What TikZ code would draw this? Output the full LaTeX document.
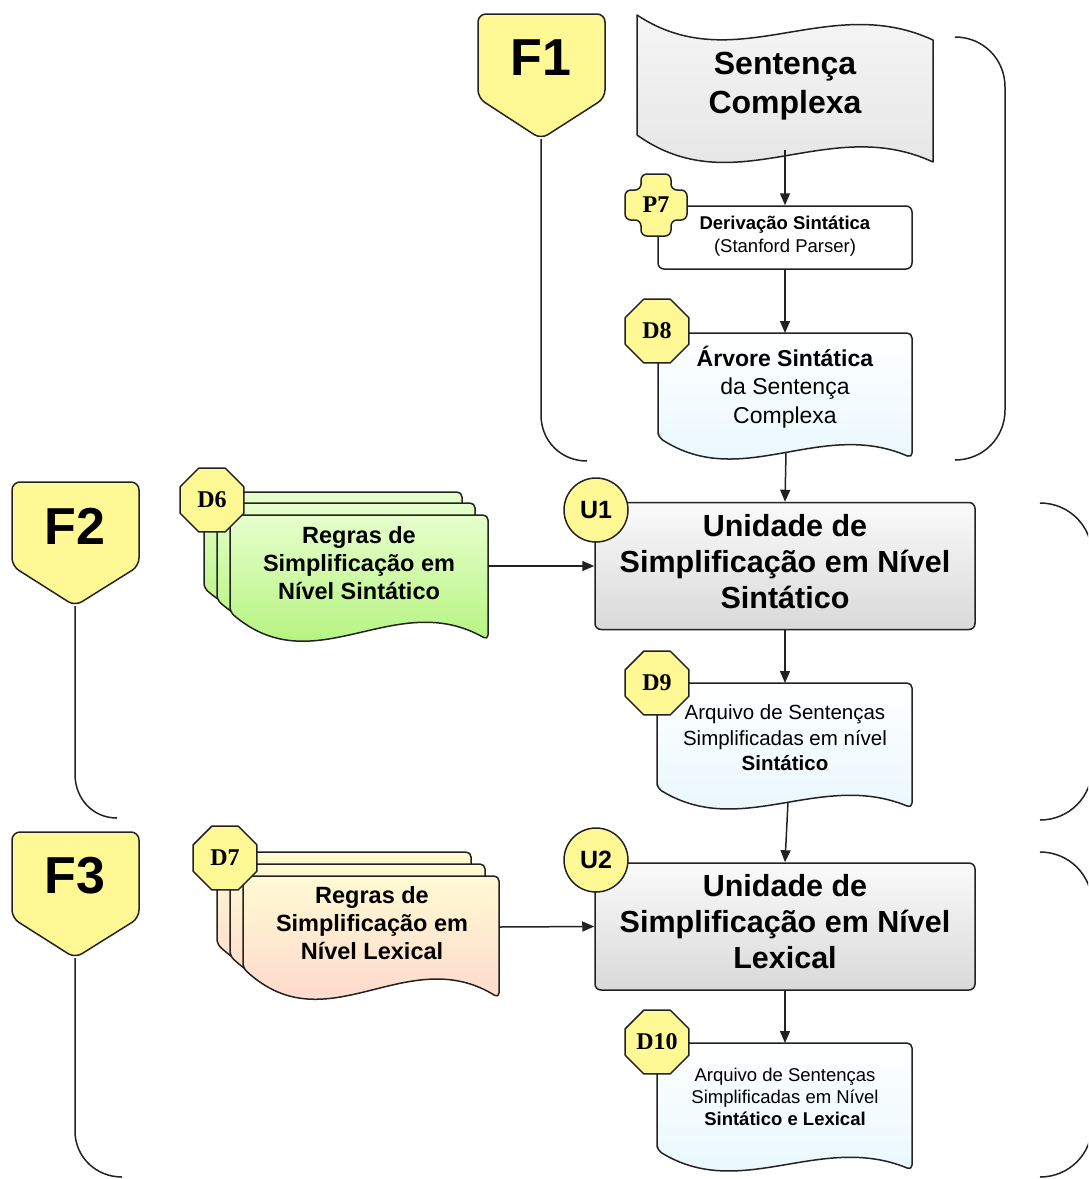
\documentclass[tikz,border=0pt]{standalone}
\usepackage{fontspec}
\setmainfont{Liberation Sans}
\newfontfamily\serifb{Liberation Serif}
\usetikzlibrary{arrows.meta,shapes.geometric}
\definecolor{yel}{HTML}{FFF995}
\definecolor{grayT}{HTML}{FAFAFA}
\definecolor{grayB}{HTML}{D9D9D9}
\definecolor{scT}{HTML}{F8F8F8}
\definecolor{scB}{HTML}{E2E2E2}
\definecolor{blueB}{HTML}{E4F6FC}
\definecolor{greenT}{HTML}{E6FFCC}
\definecolor{greenB}{HTML}{A6F068}
\definecolor{peachT}{HTML}{FFFBD2}
\definecolor{peachB}{HTML}{FFCCCC}
\definecolor{lnc}{HTML}{222222}
\begin{document}
\begin{tikzpicture}[x=1pt,y=-1pt,line join=round,
  ln/.style={draw=lnc,line width=1.5pt},
  arr/.style={ln,-{Triangle[length=12pt,width=10pt]}},
  docshape/.style n args={5}{insert path={(#1,#4) -- (#1,#2) -- (#3,#2) -- (#3,{#4+#5}) .. controls ({#3-0.36*(#3-#1)},{#4-0.9*#5}) and ({#1+0.33*(#3-#1)},{#4+2.6*#5}) .. (#1,#4) -- cycle}},
  bluedoc/.style={ln,rounded corners=5pt,top color=white,bottom color=blueB},
  greendoc/.style={ln,rounded corners=5pt,top color=greenT,bottom color=greenB},
  peachdoc/.style={ln,rounded corners=5pt,top color=peachT,bottom color=peachB},
  unitbox/.style={ln,rounded corners=6pt,top color=grayT,bottom color=grayB,minimum width=380pt,minimum height=127pt,inner sep=0pt},
  unittext/.style={align=center,font=\bfseries\fontsize{30.5}{36}\selectfont},
  octo/.style={ln,fill=yel,regular polygon,regular polygon sides=8,minimum size=69pt,inner sep=0pt,font=\serifb\bfseries\fontsize{24}{24}\selectfont},
  ubadge/.style={ln,fill=yel,circle,minimum size=64pt,inner sep=0pt,font=\bfseries\fontsize{25}{25}\selectfont},
  banner/.style={ln,fill=yel,rounded corners=8pt},
  bantext/.style={font=\bfseries\fontsize{52}{52}\selectfont},
]
\useasboundingbox (0,0) rectangle (1088,1179);
\clip (0,0) rectangle (1088,1179);

% ---------- F1 ----------
\path[banner] (478,14) -- (605,14) -- (605,98) -- (541,139) -- (478,98) -- cycle;
\node[bantext] (f1) at (541,58) {F1};
\coordinate (f1tip) at (541,139);
\coordinate (f1end) at (587,461);
\draw[ln] (f1tip) -- (541,415) .. controls (541,441) and (561,461) .. (f1end);
\coordinate (f1r1) at (955,37);
\coordinate (f1r2) at (955,460);
\draw[ln] (f1r1) .. controls (983,37) and (1005,59) .. (1005,87) -- (1005,410) .. controls (1005,438) and (983,460) .. (f1r2);

% Sentenca Complexa
\path[ln,top color=scT,bottom color=scB]
  (637,135) -- (637,15) .. controls (735,80) and (827,-9) .. (933,40)
  -- (933,162) .. controls (827,113) and (735,205) .. (637,135) -- cycle;
\node[font=\bfseries\fontsize{32}{39}\selectfont,align=center] (sc) at (785,86) {Sentença\\Complexa};
\coordinate (sc-b) at (785,150);

% P7
\node[ln,fill=white,rounded corners=6pt,minimum width=254pt,minimum height=63pt,inner sep=0pt] (p7) at (785,237.5) {};
\node[align=center,font=\fontsize{18.5}{23}\selectfont] (p7t) at (785,236) {\textbf{Derivação Sintática}\\(Stanford Parser)};
\path[ln,fill=yel,rounded corners=6pt,shift={(656,205)}]
  (-15,-31) -- (15,-31) -- (15,-15) -- (31,-15) -- (31,15) -- (15,15) -- (15,31)
  -- (-15,31) -- (-15,15) -- (-31,15) -- (-31,-15) -- (-15,-15) -- cycle;
\node[font=\serifb\bfseries\fontsize{24}{24}\selectfont] (p7b) at (656,205) {P7};
\draw[arr] (sc-b) -- (p7.north);

% D8
\path[bluedoc,docshape={658}{333}{912}{437}{21}];
\node[align=center,font=\fontsize{23}{28.5}\selectfont] (d8) at (785,387) {\textbf{Árvore Sintática}\\da Sentença\\Complexa};
\coordinate (d8-t) at (785,333);
\coordinate (d8-b) at (786,452);
\node[octo] (d8b) at (657,331) {D8};
\draw[arr] (p7.south) -- (d8-t);

% ---------- F2 ----------
\path[banner] (12,482) -- (139,482) -- (139,566) -- (75,606) -- (12,566) -- cycle;
\node[bantext] (f2) at (75,526) {F2};
\coordinate (f2tip) at (75,606);
\coordinate (f2end) at (117,818);
\draw[ln] (f2tip) -- (75,774) .. controls (75,799) and (93,818) .. (f2end);
\coordinate (f2r1) at (1040,503);
\coordinate (f2r2) at (1040,820);
\draw[ln] (f2r1) .. controls (1069,503) and (1092,526) .. (1092,555) -- (1092,768) .. controls (1092,797) and (1069,820) .. (f2r2);

% U1
\node[unitbox] (u1) at (785,566) {};
\node[unittext] (u1t) at (785,562) {Unidade de\\Simplificação em Nível\\Sintático};
\node[ubadge] (u1b) at (596,510) {U1};
\draw[arr] (d8-b) -- (u1.north);

% D6 stack
\path[greendoc,docshape={204}{492}{462}{588}{28}];
\path[greendoc,docshape={217}{503}{475}{600}{28}];
\path[greendoc,docshape={230}{515}{488}{612}{28}];
\node[align=center,font=\bfseries\fontsize{23.5}{28}\selectfont] (d6) at (359,563) {Regras de\\Simplificação em\\Nível Sintático};
\coordinate (d6-r) at (488,566);
\node[octo] (d6b) at (212,500) {D6};
\draw[arr] (d6-r) -- (u1.west);

% D9
\path[bluedoc,docshape={657}{683}{912}{788}{20}];
\node[align=center,font=\fontsize{20.5}{25.5}\selectfont] (d9) at (785,738) {Arquivo de Sentenças\\Simplificadas em nível\\\textbf{Sintático}};
\coordinate (d9-t) at (785,683);
\coordinate (d9-b) at (788,802);
\node[octo] (d9b) at (657,683) {D9};
\draw[arr] (u1.south) -- (d9-t);

% ---------- F3 ----------
\path[banner] (12,832) -- (139,832) -- (139,918) -- (75,958) -- (12,918) -- cycle;
\node[bantext] (f3) at (75,876) {F3};
\coordinate (f3tip) at (75,958);
\coordinate (f3end) at (122,1177);
\draw[ln] (f3tip) -- (75,1131) .. controls (75,1157) and (96,1177) .. (f3end);
\coordinate (f3r1) at (1040,852);
\coordinate (f3r2) at (1040,1177);
\draw[ln] (f3r1) .. controls (1069,852) and (1092,875) .. (1092,904) -- (1092,1125) .. controls (1092,1154) and (1069,1177) .. (f3r2);

% U2
\node[unitbox] (u2) at (785,926.5) {};
\node[unittext] (u2t) at (785,922) {Unidade de\\Simplificação em Nível\\Lexical};
\node[ubadge] (u2b) at (596,860) {U2};
\draw[arr] (d9-b) -- (u2.north);

% D7 stack
\path[peachdoc,docshape={217}{852}{471}{944}{30}];
\path[peachdoc,docshape={230}{864}{485}{956}{30}];
\path[peachdoc,docshape={243}{876}{499}{968}{30}];
\node[align=center,font=\bfseries\fontsize{23.5}{28}\selectfont] (d7) at (372,923) {Regras de\\Simplificação em\\Nível Lexical};
\coordinate (d7-r) at (499,927);
\node[octo] (d7b) at (225,858) {D7};
\draw[arr] (d7-r) -- (u2.west);

% D10
\path[bluedoc,docshape={657}{1043}{912}{1150}{20}];
\node[align=center,font=\fontsize{18.5}{22}\selectfont] (d10) at (785,1097) {Arquivo de Sentenças\\Simplificadas em Nível\\\textbf{Sintático e Lexical}};
\coordinate (d10-t) at (785,1043);
\node[octo] (d10b) at (657,1042) {D10};
\draw[arr] (u2.south) -- (d10-t);
\end{tikzpicture}
\end{document}
